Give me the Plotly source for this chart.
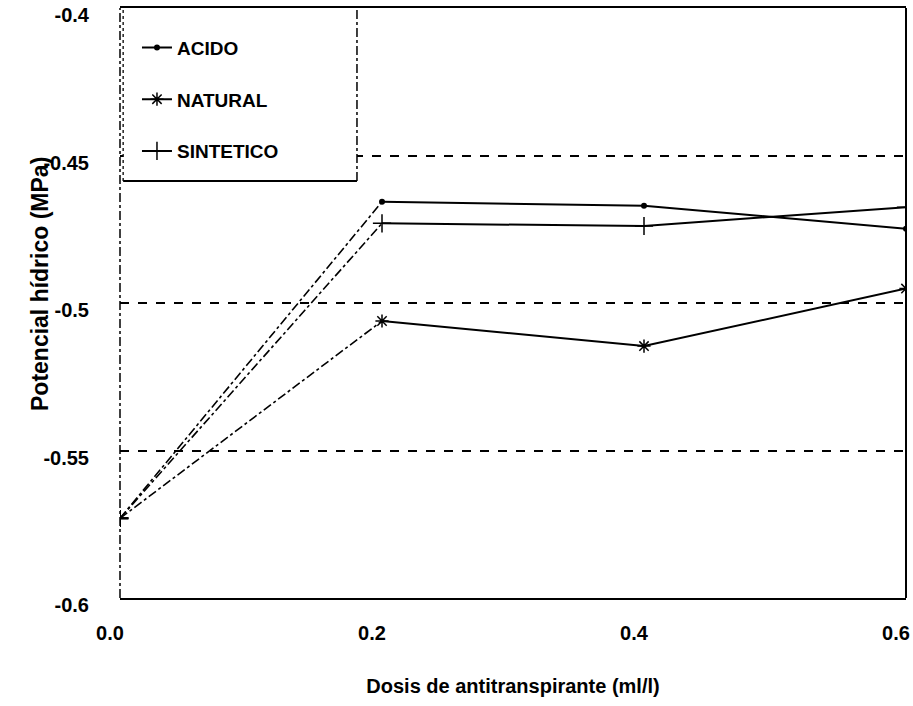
import plotly.graph_objects as go

dosis = [0.0, 0.2, 0.4, 0.6]
acido = [-0.573, -0.4657, -0.467, -0.4748]
natural = [-0.573, -0.5061, -0.5146, -0.4951]
sintetico = [-0.573, -0.473, -0.4739, -0.4675]
x_ticks = [0.0, 0.2, 0.4, 0.6]
x_labels = ["0.0", "0.2", "0.4", "0.6"]
y_ticks = [-0.6, -0.55, -0.5, -0.45, -0.4]
y_labels = ["-0.6", "-0.55", "-0.5", "-0.45", "-0.4"]

series = [
    ("ACIDO", acido, dict(symbol="circle", size=6, color="black")),
    ("NATURAL", natural, dict(symbol="asterisk-open", size=11, color="black", line=dict(color="black", width=1.5))),
    ("SINTETICO", sintetico, dict(symbol="cross-thin-open", size=13, color="black", line=dict(color="black", width=1.5))),
]

fig = go.Figure()
for name, vals, mk in series:
    # faded first segment (0.0 -> 0.2)
    fig.add_trace(go.Scatter(x=dosis[:2], y=vals[:2], mode="lines", legendgroup=name,
                             showlegend=False, line=dict(color="black", width=1.6, dash="dashdot"),
                             hoverinfo="skip"))
    fig.add_trace(go.Scatter(x=dosis[1:], y=vals[1:], mode="lines+markers", name=name,
                             legendgroup=name, line=dict(color="black", width=2), marker=mk))
    fig.add_trace(go.Scatter(x=dosis[:1], y=vals[:1], mode="markers", legendgroup=name,
                             showlegend=False, marker=dict(symbol="cross-thin-open", size=12,
                             color="black", line=dict(color="black", width=2))))

font = "Liberation Sans, Arial, sans-serif"
bx0, bx1, by0, by1 = 0.004, 0.3015, 0.7068, 1.0
fig.update_layout(
    width=913, height=706,
    margin=dict(l=120, r=7, t=8, b=108),
    plot_bgcolor="white", paper_bgcolor="white",
    font=dict(family=font, color="black", size=20),
    showlegend=True,
    legend=dict(x=0.0216, y=0.965, xanchor="left", yanchor="top",
                bgcolor="rgba(0,0,0,0)", borderwidth=0, tracegroupgap=24,
                traceorder="grouped", font=dict(size=19, family=font, weight="bold")),
    shapes=[
        dict(type="rect", xref="paper", yref="paper", x0=bx0, x1=bx1, y0=by0, y1=by1 - 0.002,
             line=dict(width=0), fillcolor="white", layer="above"),
        dict(type="line", xref="paper", yref="paper", x0=bx0, x1=bx0, y0=by0, y1=by1,
             line=dict(color="black", width=1.3, dash="dot"), layer="above"),
        dict(type="line", xref="paper", yref="paper", x0=bx1, x1=bx1, y0=by0, y1=by1,
             line=dict(color="black", width=1.5, dash="dashdot"), layer="above"),
        dict(type="line", xref="paper", yref="paper", x0=bx0, x1=bx1, y0=by0, y1=by0,
             line=dict(color="black", width=2), layer="above"),
        # left axis (faded, dash-dot) and right frame
        dict(type="line", xref="paper", yref="paper", x0=0, x1=0, y0=0, y1=1,
             line=dict(color="black", width=1.5, dash="dashdot"), layer="above"),
        dict(type="line", xref="paper", yref="paper", x0=1, x1=1, y0=0, y1=1,
             line=dict(color="black", width=2), layer="above"),
    ],
    annotations=[dict(text="<b>Potencial hídrico (MPa)</b>", xref="paper", yref="paper",
                      x=-0.121, y=0.532, textangle=-90, showarrow=False,
                      font=dict(size=23, family=font))],
)
fig.update_xaxes(range=[0, 0.6], tickvals=x_ticks, ticktext=x_labels, showgrid=False,
                 zeroline=False, showline=True, linecolor="black", linewidth=2, mirror=True,
                 automargin=False,
                 ticks="", ticklabelstandoff=16, ticklabelshift=-10, ticklabeloverflow="allow",
                 tickfont=dict(size=20, weight="bold"),
                 title=dict(text="Dosis de antitranspirante (ml/l)", standoff=36,
                            font=dict(size=20, weight="bold")))
fig.update_yaxes(range=[-0.6, -0.4], tickvals=y_ticks, ticktext=y_labels, showgrid=True,
                 gridcolor="black", gridwidth=1.5, griddash="dash",
                 zeroline=False, showline=False, automargin=False,
                 ticks="", ticklabelstandoff=30, ticklabelshift=7, ticklabeloverflow="allow",
                 tickfont=dict(size=20, weight="bold"))
fig.write_html("out.html")
